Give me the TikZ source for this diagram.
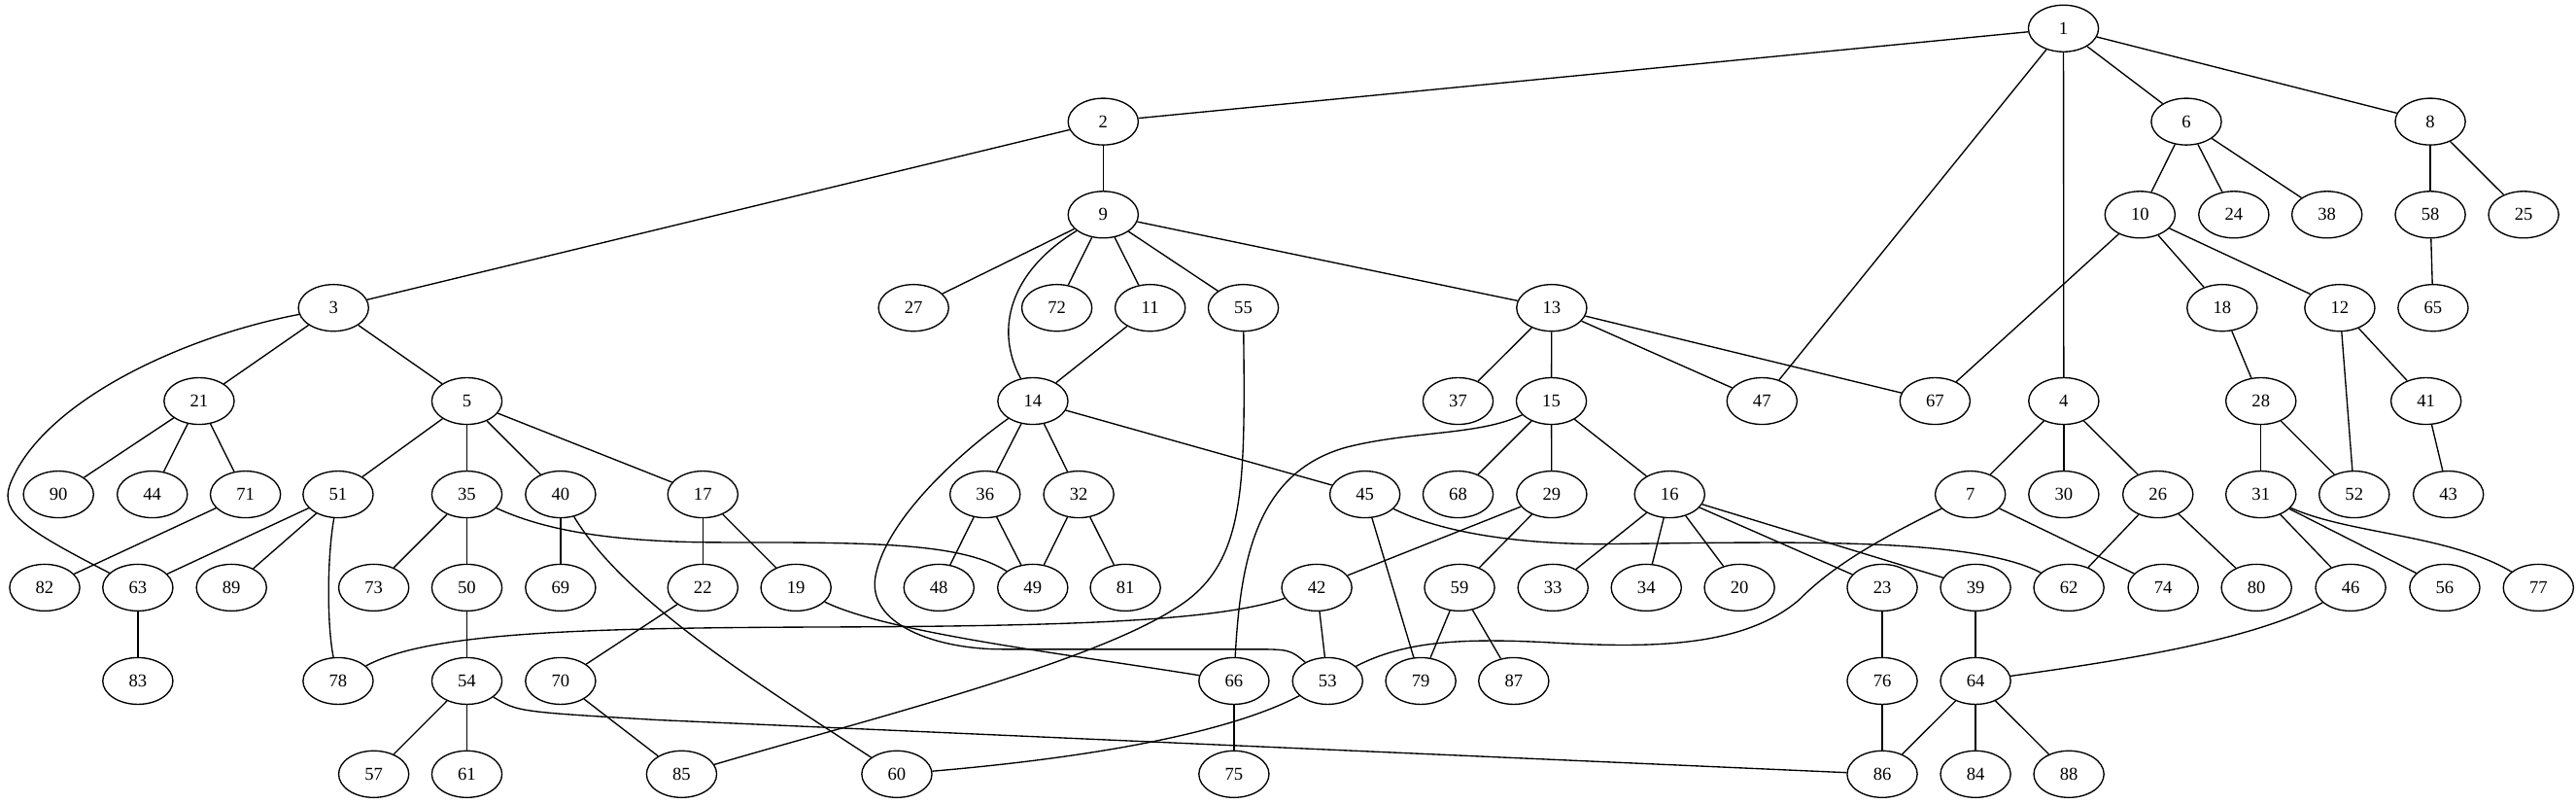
\documentclass[tikz,border=0pt]{standalone}
\usepackage{fontspec}
\setmainfont{Liberation Serif}
\usetikzlibrary{shapes.geometric}

\begin{document}
\begin{tikzpicture}[x=1pt, y=-1pt, line width=0.8pt,
    vertex/.style={ellipse, draw=black, minimum width=42.7pt, minimum height=28.4pt,
    inner sep=0pt, font=\fontsize{11}{13}\selectfont}]

    \useasboundingbox (0,0) rectangle (1568,489);

    % row 0
    \node[vertex] (v1) at (1256,17.3) {1};
    % row 1
    \node[vertex] (v2) at (671.5,74) {2};
    \node[vertex] (v6) at (1330.8,74) {6};
    \node[vertex] (v8) at (1479.3,74) {8};
    % row 2
    \node[vertex] (v9) at (671.5,130.6) {9};
    \node[vertex] (v10) at (1302.6,130.6) {10};
    \node[vertex] (v24) at (1359.7,130.6) {24};
    \node[vertex] (v38) at (1416.4,130.6) {38};
    \node[vertex] (v58) at (1479.3,130.6) {58};
    \node[vertex] (v25) at (1536.1,130.6) {25};
    % row 3
    \node[vertex] (v3) at (203,187.3) {3};
    \node[vertex] (v27) at (556.1,187.3) {27};
    \node[vertex] (v72) at (643.3,187.3) {72};
    \node[vertex] (v11) at (700.1,187.3) {11};
    \node[vertex] (v55) at (756.8,187.3) {55};
    \node[vertex] (v13) at (944.5,187.3) {13};
    \node[vertex] (v18) at (1352.6,187.3) {18};
    \node[vertex] (v12) at (1424.2,187.3) {12};
    \node[vertex] (v65) at (1481,187.3) {65};
    % row 4
    \node[vertex] (v21) at (121.2,244) {21};
    \node[vertex] (v5) at (284.2,244) {5};
    \node[vertex] (v14) at (628.7,244) {14};
    \node[vertex] (v37) at (887.5,244) {37};
    \node[vertex] (v15) at (944.3,244) {15};
    \node[vertex] (v47) at (1072.5,244) {47};
    \node[vertex] (v67) at (1177.8,244) {67};
    \node[vertex] (v4) at (1256.2,244) {4};
    \node[vertex] (v28) at (1376.2,244) {28};
    \node[vertex] (v41) at (1476.7,244) {41};
    % row 5
    \node[vertex] (v90) at (35.6,300.8) {90};
    \node[vertex] (v44) at (92.7,300.8) {44};
    \node[vertex] (v71) at (149.4,300.8) {71};
    \node[vertex] (v51) at (205.8,300.8) {51};
    \node[vertex] (v35) at (284.2,300.8) {35};
    \node[vertex] (v40) at (341.2,300.8) {40};
    \node[vertex] (v17) at (427.8,300.8) {17};
    \node[vertex] (v36) at (599.6,300.8) {36};
    \node[vertex] (v32) at (656.6,300.8) {32};
    \node[vertex] (v45) at (830.8,300.8) {45};
    \node[vertex] (v68) at (887.5,300.8) {68};
    \node[vertex] (v29) at (944.5,300.8) {29};
    \node[vertex] (v16) at (1016.3,300.8) {16};
    \node[vertex] (v7) at (1199.3,300.8) {7};
    \node[vertex] (v30) at (1256.2,300.8) {30};
    \node[vertex] (v26) at (1313.5,300.8) {26};
    \node[vertex] (v31) at (1376.2,300.8) {31};
    \node[vertex] (v52) at (1433,300.8) {52};
    \node[vertex] (v43) at (1490.3,300.8) {43};
    % row 6
    \node[vertex] (v82) at (27.2,357.5) {82};
    \node[vertex] (v63) at (83.9,357.5) {63};
    \node[vertex] (v89) at (140.9,357.5) {89};
    \node[vertex] (v73) at (227.5,357.5) {73};
    \node[vertex] (v50) at (284.2,357.5) {50};
    \node[vertex] (v69) at (341.2,357.5) {69};
    \node[vertex] (v22) at (427.8,357.5) {22};
    \node[vertex] (v19) at (484.5,357.5) {19};
    \node[vertex] (v48) at (571.5,357.5) {48};
    \node[vertex] (v49) at (628.6,357.5) {49};
    \node[vertex] (v81) at (685,357.5) {81};
    \node[vertex] (v42) at (801.5,357.5) {42};
    \node[vertex] (v59) at (888.4,357.5) {59};
    \node[vertex] (v33) at (945.3,357.5) {33};
    \node[vertex] (v34) at (1002.1,357.5) {34};
    \node[vertex] (v20) at (1058.8,357.5) {20};
    \node[vertex] (v23) at (1145.7,357.5) {23};
    \node[vertex] (v39) at (1202.5,357.5) {39};
    \node[vertex] (v62) at (1259.3,357.5) {62};
    \node[vertex] (v74) at (1316.7,357.5) {74};
    \node[vertex] (v80) at (1373.5,357.5) {80};
    \node[vertex] (v46) at (1430.8,357.5) {46};
    \node[vertex] (v56) at (1488.1,357.5) {56};
    \node[vertex] (v77) at (1545.1,357.5) {77};
    % row 7
    \node[vertex] (v83) at (83.9,414.3) {83};
    \node[vertex] (v78) at (205.8,414.3) {78};
    \node[vertex] (v54) at (284.2,414.3) {54};
    \node[vertex] (v70) at (341.2,414.3) {70};
    \node[vertex] (v66) at (751.1,414.3) {66};
    \node[vertex] (v53) at (808.1,414.3) {53};
    \node[vertex] (v79) at (864.8,414.3) {79};
    \node[vertex] (v87) at (921.4,414.3) {87};
    \node[vertex] (v76) at (1145.7,414.3) {76};
    \node[vertex] (v64) at (1202.5,414.3) {64};
    % row 8
    \node[vertex] (v57) at (227.5,471) {57};
    \node[vertex] (v61) at (284.2,471) {61};
    \node[vertex] (v85) at (414.9,471) {85};
    \node[vertex] (v60) at (545.9,471) {60};
    \node[vertex] (v75) at (751.1,471) {75};
    \node[vertex] (v86) at (1145.7,471) {86};
    \node[vertex] (v84) at (1202.5,471) {84};
    \node[vertex] (v88) at (1259.3,471) {88};

    % straight edges
    \path (v1) edge (v2);
    \path (v1) edge (v6);
    \path (v1) edge (v8);
    \path (v1) edge (v47);
    \path (v1) edge (v4);
    \path (v2) edge (v9);
    \path (v2) edge (v3);
    \path (v6) edge (v10);
    \path (v6) edge (v24);
    \path (v6) edge (v38);
    \path (v8) edge (v58);
    \path (v8) edge (v25);
    \path (v58) edge (v65);
    \path (v9) edge (v27);
    \path (v9) edge (v72);
    \path (v9) edge (v11);
    \path (v9) edge (v55);
    \path (v9) edge (v13);
    \path (v10) edge (v18);
    \path (v10) edge (v12);
    \path (v10) edge (v67);
    \path (v3) edge (v21);
    \path (v3) edge (v5);
    \path (v11) edge (v14);
    \path (v13) edge (v37);
    \path (v13) edge (v15);
    \path (v13) edge (v47);
    \path (v13) edge (v67);
    \path (v18) edge (v28);
    \path (v12) edge (v41);
    \path (v12) edge (v52);
    \path (v21) edge (v90);
    \path (v21) edge (v44);
    \path (v21) edge (v71);
    \path (v5) edge (v51);
    \path (v5) edge (v35);
    \path (v5) edge (v40);
    \path (v5) edge (v17);
    \path (v14) edge (v36);
    \path (v14) edge (v32);
    \path (v14) edge (v45);
    \path (v15) edge (v68);
    \path (v15) edge (v29);
    \path (v15) edge (v16);
    \path (v4) edge (v7);
    \path (v4) edge (v30);
    \path (v4) edge (v26);
    \path (v28) edge (v31);
    \path (v28) edge (v52);
    \path (v41) edge (v43);
    \path (v71) edge (v82);
    \path (v51) edge (v63);
    \path (v51) edge (v89);
    \path (v35) edge (v73);
    \path (v35) edge (v50);
    \path (v40) edge (v69);
    \path (v17) edge (v22);
    \path (v17) edge (v19);
    \path (v36) edge (v48);
    \path (v36) edge (v49);
    \path (v32) edge (v49);
    \path (v32) edge (v81);
    \path (v45) edge (v79);
    \path (v29) edge (v42);
    \path (v29) edge (v59);
    \path (v16) edge (v33);
    \path (v16) edge (v34);
    \path (v16) edge (v20);
    \path (v16) edge (v23);
    \path (v16) edge (v39);
    \path (v7) edge (v74);
    \path (v26) edge (v62);
    \path (v26) edge (v80);
    \path (v31) edge (v46);
    \path (v31) edge (v56);
    \path (v63) edge (v83);
    \path (v50) edge (v54);
    \path (v22) edge (v70);
    \path (v42) edge (v53);
    \path (v59) edge (v79);
    \path (v59) edge (v87);
    \path (v23) edge (v76);
    \path (v39) edge (v64);
    \path (v54) edge (v57);
    \path (v54) edge (v61);
    \path (v70) edge (v85);
    \path (v66) edge (v75);
    \path (v76) edge (v86);
    \path (v64) edge (v86);
    \path (v64) edge (v84);
    \path (v64) edge (v88);

    % curved edges
    \draw (v9) .. controls (615,165) and (605,200) .. (v14);
    \draw (v3) .. controls (110,205) and (25,245) .. (6,295) .. controls (0,312) and (15,322) .. (v63);
    \draw (v51) .. controls (199,340) and (199,380) .. (v78);
    \draw (v35) .. controls (330,322) and (370,330) .. (440,330) .. controls (530,330) and (585,330) .. (v49);
    \draw (v40) .. controls (380,365) and (460,415) .. (v60);
    \draw (v14) .. controls (585,275) and (540,315) .. (533,350) .. controls (527,380) and (570,395) .. (610,395) -- (760,395) .. controls (785,395) .. (v53);
    \draw (v55) .. controls (758,300) and (758,345) .. (714,371) .. controls (660,405) and (520,440) .. (v85);
    \draw (v15) .. controls (900,265) and (860,262) .. (820,272) .. controls (765,287) and (755,340) .. (v66);
    \draw (v45) .. controls (875,323) and (920,331) .. (975,331) .. controls (1080,330) and (1200,326) .. (v62);
    \draw (v7) .. controls (1140,330) and (1115,345) .. (1095,365) .. controls (1060,395) and (1000,394) .. (945,391) .. controls (890,388) and (855,390) .. (v53);
    \draw (v42) .. controls (740,378) and (650,381) .. (500,381.5) .. controls (350,382) and (260,385) .. (v78);
    \draw (v19) .. controls (540,385) and (650,398) .. (v66);
    \draw (v53) .. controls (740,450) and (640,463) .. (v60);
    \draw (v54) .. controls (315,433) .. (400,438) -- (v86);
    \draw (v31) .. controls (1430,325) and (1490,325) .. (v77);
    \draw (v46) .. controls (1370,390) and (1290,402) .. (v64);
\end{tikzpicture}
\end{document}
